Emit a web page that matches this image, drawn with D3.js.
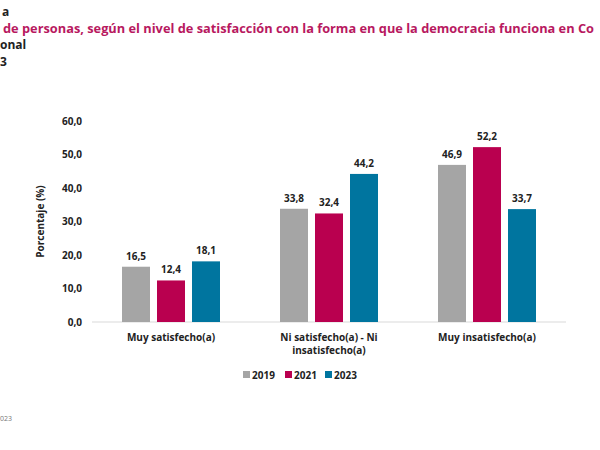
<!DOCTYPE html>
<html><head><meta charset="utf-8">
<script src="https://cdn.jsdelivr.net/npm/d3@7"></script>
<style>body{margin:0;background:#fff}svg{display:block}text{font-family:"Open Sans",sans-serif}</style>
</head><body>
<svg id="c" width="600" height="450"></svg>
<script>
const categories = ["Muy satisfecho(a)", "Ni satisfecho(a) - Ni insatisfecho(a)", "Muy insatisfecho(a)"];
const categoryLines = [["Muy satisfecho(a)"], ["Ni satisfecho(a) - Ni", "insatisfecho(a)"], ["Muy insatisfecho(a)"]];
const years = ["2019", "2021", "2023"];
const v2019 = [16.5, 33.8, 46.9];
const v2021 = [12.4, 32.4, 52.2];
const v2023 = [18.1, 44.2, 33.7];
const yTicks = [0, 10, 20, 30, 40, 50, 60];
const colors = ["#A5A5A5", "#B9004F", "#00759F"];
const series = [v2019, v2021, v2023];

const svg = d3.select("#c");
const fmt = v => d3.format(".1f")(v).replace(".", ",");

// Title (cropped as in the reference)
const t = svg.append("g").attr("font-weight", "bold");
t.append("text").attr("x", 2).attr("y", 15.5).attr("font-size", 12).attr("fill", "#222").text("a");
t.append("text").attr("x", 3).attr("y", 33).attr("font-size", 12.8).attr("fill", "#B8195F").text("de personas, según el nivel de satisfacción con la forma en que la democracia funciona en Co");
t.append("text").attr("x", 0).attr("y", 48.5).attr("font-size", 12).attr("fill", "#222").text("onal");
t.append("text").attr("x", 0).attr("y", 65.5).attr("font-size", 12).attr("fill", "#222").text("3");

const x0 = d3.scaleBand().domain(categories).range([92, 566]).paddingInner(0).paddingOuter(0);
const x1 = d3.scaleBand().domain(years).range([0, 98]).paddingInner(0.2);
const y = d3.scaleLinear().domain([0, 60]).range([322, 121]);

// y tick labels
svg.append("g").selectAll("text").data(yTicks).join("text")
  .attr("x", 82).attr("y", d => y(d)).attr("dy", "0.35em")
  .attr("text-anchor", "end").attr("font-size", 10).attr("font-weight", "bold").attr("fill", "#222")
  .text(d => fmt(d));

svg.append("text").attr("transform", `translate(44,${y(30)}) rotate(-90)`)
  .attr("text-anchor", "middle").attr("font-size", 10).attr("font-weight", "bold").attr("fill", "#222")
  .text("Porcentaje (%)");

// baseline
svg.append("line").attr("x1", 92).attr("x2", 566).attr("y1", y(0)).attr("y2", y(0))
  .attr("stroke", "#D9D9D9").attr("stroke-width", 1);

const g = svg.append("g").selectAll("g").data(categories).join("g")
  .attr("transform", d => `translate(${x0(d) + (x0.bandwidth() - 98) / 2},0)`);

g.each(function(c, ci) {
  const sel = d3.select(this);
  years.forEach((yr, si) => {
    const v = series[si][ci];
    sel.append("rect").attr("x", x1(yr)).attr("width", x1.bandwidth())
      .attr("y", y(v)).attr("height", y(0) - y(v)).attr("fill", colors[si]);
    sel.append("text").attr("x", x1(yr) + x1.bandwidth() / 2).attr("y", y(v) - 7)
      .attr("text-anchor", "middle").attr("font-size", 10).attr("font-weight", "bold").attr("fill", "#222")
      .text(fmt(v));
  });
});

// category labels
svg.append("g").selectAll("text").data(categories).join("text")
  .attr("x", d => x0(d) + x0.bandwidth() / 2).attr("y", 341)
  .attr("text-anchor", "middle").attr("font-size", 10).attr("font-weight", "bold").attr("fill", "#222")
  .each(function(d, i) {
    d3.select(this).selectAll("tspan").data(categoryLines[i]).join("tspan")
      .attr("x", x0(d) + x0.bandwidth() / 2).attr("dy", (l, j) => j === 0 ? 0 : 13).text(l => l);
  });

// legend
const legX = [243, 285, 325];
const leg = svg.append("g").selectAll("g").data(years).join("g")
  .attr("transform", (d, i) => `translate(${legX[i]},375)`);
leg.append("rect").attr("x", 0).attr("y", -4).attr("width", 7).attr("height", 7).attr("fill", (d, i) => colors[i]);
leg.append("text").attr("x", 9).attr("y", 0).attr("dy", "0.35em").attr("font-size", 10).attr("font-weight", "bold").attr("fill", "#222").text(d => d);

// footer fragment
svg.append("text").attr("x", 0).attr("y", 421).attr("font-size", 7).attr("fill", "#777").text("023");
</script>
</body></html>
